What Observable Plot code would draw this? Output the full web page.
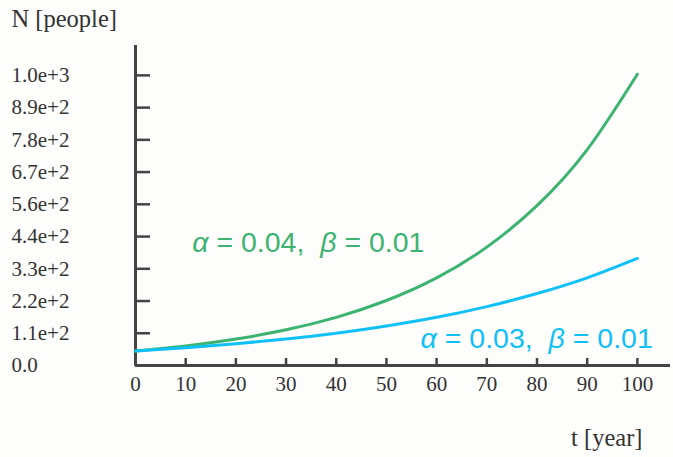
<!DOCTYPE html>
<html>
<head>
<meta charset="utf-8">
<script src="https://cdn.jsdelivr.net/npm/d3@7"></script>
<script src="https://cdn.jsdelivr.net/npm/@observablehq/plot@0.6"></script>
<style>
  html, body { margin: 0; padding: 0; background: #fdfdfb; }
  #chart svg { display: block; background: #fdfdfb; }
</style>
</head>
<body>
<div id="chart"></div>
<script>
// Data
const years = [0, 10, 20, 30, 40, 50, 60, 70, 80, 90, 100];
const greenN = [50, 67, 91, 123, 166, 224, 302, 408, 551, 744, 1004];
const blueN  = [50, 61, 75, 91, 111, 136, 166, 203, 248, 302, 369];
const xTicks = [0, 10, 20, 30, 40, 50, 60, 70, 80, 90, 100];
const yTicks = [0, 111.1, 222.2, 333.3, 444.4, 555.6, 666.7, 777.8, 888.9, 1000];
const yTickLabels = ["0.0", "1.1e+2", "2.2e+2", "3.3e+2", "4.4e+2", "5.6e+2", "6.7e+2", "7.8e+2", "8.9e+2", "1.0e+3"];
const seriesNames = ["α = 0.04,  β = 0.01", "α = 0.03,  β = 0.01"];

const green = "#3cb371";
const blue = "#10c0f8";
const axisColor = "#444";
const textColor = "#333";

const greenData = years.map((t, i) => ({t, n: greenN[i]}));
const blueData = years.map((t, i) => ({t, n: blueN[i]}));
const labelData = [
  {t: 11.3, n: 390, label: seriesNames[0], color: green},
  {t: 56.8, n: 62, label: seriesNames[1], color: blue}
];

const plot = Plot.plot({
  width: 673,
  height: 457,
  marginLeft: 135,
  marginRight: 3,
  marginTop: 45,
  marginBottom: 92,
  style: {background: "#fdfdfb", color: textColor},
  x: {domain: [0, 106.6]},
  y: {domain: [0, 1103]},
  marks: [
    // inward tick marks
    Plot.axisY(yTicks, {anchor: "right", frameAnchor: "left", tickSize: 14, tickFormat: () => "", stroke: axisColor, strokeWidth: 2.5, label: null}),
    Plot.axisX(xTicks, {anchor: "top", frameAnchor: "bottom", tickSize: 8, tickFormat: () => "", stroke: axisColor, strokeWidth: 2.5, label: null}),
    // tick labels
    Plot.axisY(yTicks, {anchor: "left", tickSize: 0, tickPadding: 0, textAnchor: "start", dx: -124,
      tickFormat: (d, i) => yTickLabels[i], fontFamily: "Liberation Serif", fontSize: 21, fill: textColor, label: null}),
    Plot.axisX(xTicks, {anchor: "bottom", tickSize: 0, tickPadding: 11,
      fontFamily: "Liberation Serif", fontSize: 21, fill: textColor, label: null}),
    // axis lines
    Plot.ruleX([0], {stroke: axisColor, strokeWidth: 3}),
    Plot.ruleY([0], {stroke: axisColor, strokeWidth: 3}),
    // axis titles
    Plot.text(["N [people]"], {frameAnchor: "top-left", dx: -124, dy: -26, textAnchor: "start", lineAnchor: "middle",
      fontFamily: "Liberation Serif", fontSize: 24.5, fill: textColor}),
    Plot.text(["t [year]"], {frameAnchor: "bottom-right", dx: -28, dy: 73, textAnchor: "end", lineAnchor: "middle",
      fontFamily: "Liberation Serif", fontSize: 24.5, fill: textColor}),
    // curves
    Plot.line(greenData, {x: "t", y: "n", stroke: green, strokeWidth: 3, curve: "natural"}),
    Plot.line(blueData, {x: "t", y: "n", stroke: blue, strokeWidth: 3, curve: "natural"}),
    // annotations
    Plot.text(labelData, {x: "t", y: "n", text: "label", fill: "color", textAnchor: "start", lineAnchor: "bottom",
      fontFamily: "Liberation Sans", fontSize: 28.5})
  ]
});

// italicise the Greek letters
plot.querySelectorAll("text").forEach(el => {
  const s = el.textContent;
  if (s.includes("α")) {
    const parts = s.split(/([αβ])/);
    el.textContent = "";
    parts.forEach(p => {
      if (!p) return;
      const ts = document.createElementNS("http://www.w3.org/2000/svg", "tspan");
      ts.textContent = p;
      if (p === "α" || p === "β") ts.setAttribute("font-style", "italic");
      el.appendChild(ts);
    });
    el.setAttribute("xml:space", "preserve");
    el.style.whiteSpace = "pre";
  }
});

document.getElementById("chart").appendChild(plot);
</script>
</body>
</html>
